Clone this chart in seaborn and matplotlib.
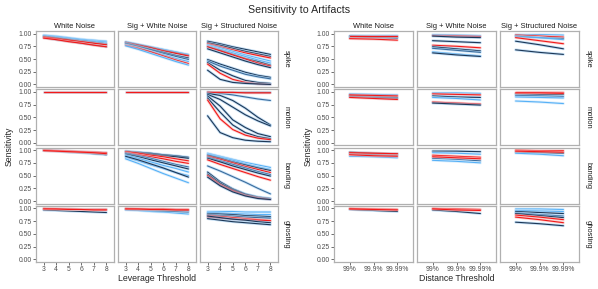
import numpy as np
import pandas as pd
import matplotlib
matplotlib.use("Agg")
import matplotlib.pyplot as plt
import matplotlib.patheffects as pe
import seaborn as sns

# --- labels ---
leverage = [3, 4, 5, 6, 7, 8]
dist_labels = ["99%", "99.9%", "99.99%"]
col_names = ["White Noise", "Sig + White Noise", "Sig + Structured Noise"]
row_names = ["spike", "motion", "banding", "ghosting"]

# colour codes: d = dark navy, m = mid blue, l = light blue, r = red
# --- leverage threshold panels (values at 3..8) ---
lev_spike_white = [
    ("l", [0.97, 0.95, 0.92, 0.89, 0.87, 0.85]),
    ("l", [0.96, 0.94, 0.91, 0.88, 0.85, 0.83]),
    ("m", [0.95, 0.92, 0.89, 0.86, 0.83, 0.80]),
    ("d", [0.94, 0.91, 0.88, 0.84, 0.81, 0.78]),
    ("d", [0.92, 0.88, 0.85, 0.81, 0.78, 0.74]),
    ("r", [0.93, 0.90, 0.87, 0.84, 0.81, 0.78]),
    ("r", [0.91, 0.88, 0.84, 0.81, 0.77, 0.74]),
]
lev_spike_sigwhite = [
    ("l", [0.84, 0.79, 0.74, 0.69, 0.64, 0.59]),
    ("d", [0.83, 0.78, 0.73, 0.67, 0.62, 0.57]),
    ("r", [0.82, 0.77, 0.72, 0.66, 0.61, 0.56]),
    ("d", [0.81, 0.75, 0.69, 0.63, 0.57, 0.52]),
    ("m", [0.80, 0.74, 0.68, 0.61, 0.55, 0.49]),
    ("l", [0.78, 0.72, 0.65, 0.58, 0.51, 0.45]),
    ("r", [0.77, 0.71, 0.64, 0.56, 0.48, 0.41]),
    ("l", [0.76, 0.69, 0.61, 0.53, 0.45, 0.38]),
]
lev_spike_struct = [
    ("d", [0.85, 0.80, 0.74, 0.69, 0.64, 0.59]),
    ("d", [0.82, 0.77, 0.71, 0.65, 0.60, 0.55]),
    ("r", [0.80, 0.74, 0.68, 0.62, 0.57, 0.52]),
    ("l", [0.78, 0.72, 0.65, 0.58, 0.52, 0.46]),
    ("l", [0.76, 0.69, 0.62, 0.55, 0.48, 0.42]),
    ("d", [0.74, 0.67, 0.59, 0.51, 0.45, 0.38]),
    ("r", [0.74, 0.66, 0.58, 0.50, 0.42, 0.36]),
    ("d", [0.70, 0.62, 0.54, 0.46, 0.39, 0.33]),
    ("d", [0.49, 0.40, 0.32, 0.24, 0.18, 0.14]),
    ("m", [0.46, 0.36, 0.28, 0.20, 0.15, 0.11]),
    ("d", [0.43, 0.28, 0.17, 0.08, 0.04, 0.02]),
    ("r", [0.40, 0.22, 0.10, 0.04, 0.01, 0.00]),
    ("d", [0.28, 0.10, 0.04, 0.02, 0.01, 0.00]),
]
lev_motion_white = [
    ("d", [1.00, 1.00, 1.00, 1.00, 1.00, 1.00]),
    ("r", [1.00, 1.00, 1.00, 1.00, 1.00, 1.00]),
]
lev_motion_sigwhite = [
    ("d", [1.00, 1.00, 1.00, 1.00, 1.00, 1.00]),
    ("r", [1.00, 1.00, 1.00, 1.00, 1.00, 1.00]),
]
lev_motion_struct = [
    ("d", [1.00, 1.00, 1.00, 1.00, 1.00, 1.00]),
    ("m", [1.00, 0.97, 0.94, 0.90, 0.86, 0.83]),
    ("r", [0.99, 0.99, 0.99, 0.98, 0.98, 0.98]),
    ("d", [0.97, 0.93, 0.83, 0.68, 0.50, 0.35]),
    ("d", [0.95, 0.85, 0.70, 0.55, 0.43, 0.33]),
    ("d", [0.92, 0.72, 0.45, 0.30, 0.18, 0.12]),
    ("d", [0.88, 0.60, 0.35, 0.20, 0.12, 0.08]),
    ("r", [0.84, 0.47, 0.26, 0.15, 0.09, 0.06]),
    ("d", [0.53, 0.20, 0.10, 0.05, 0.03, 0.02]),
]
lev_banding_white = [
    ("l", [1.00, 0.99, 0.98, 0.97, 0.96, 0.95]),
    ("d", [0.99, 0.98, 0.96, 0.95, 0.93, 0.91]),
    ("m", [1.00, 0.99, 0.97, 0.96, 0.94, 0.93]),
    ("r", [1.00, 0.99, 0.98, 0.97, 0.96, 0.95]),
    ("r", [0.99, 0.98, 0.97, 0.96, 0.95, 0.93]),
]
lev_banding_sigwhite = [
    ("d", [0.98, 0.96, 0.94, 0.91, 0.89, 0.86]),
    ("d", [0.97, 0.95, 0.92, 0.89, 0.87, 0.84]),
    ("r", [0.97, 0.94, 0.90, 0.87, 0.83, 0.79]),
    ("r", [0.95, 0.91, 0.87, 0.83, 0.78, 0.74]),
    ("m", [0.94, 0.89, 0.84, 0.78, 0.72, 0.67]),
    ("d", [0.92, 0.87, 0.81, 0.75, 0.69, 0.63]),
    ("l", [0.90, 0.84, 0.77, 0.70, 0.64, 0.57]),
    ("l", [0.86, 0.79, 0.71, 0.64, 0.56, 0.50]),
    ("d", [0.88, 0.81, 0.73, 0.65, 0.56, 0.47]),
    ("l", [0.83, 0.74, 0.64, 0.54, 0.45, 0.36]),
]
lev_banding_struct = [
    ("l", [0.94, 0.88, 0.82, 0.76, 0.71, 0.66]),
    ("l", [0.92, 0.86, 0.80, 0.73, 0.67, 0.62]),
    ("d", [0.90, 0.84, 0.77, 0.71, 0.65, 0.60]),
    ("r", [0.88, 0.82, 0.75, 0.68, 0.62, 0.56]),
    ("m", [0.86, 0.79, 0.72, 0.65, 0.58, 0.52]),
    ("d", [0.84, 0.77, 0.69, 0.62, 0.55, 0.49]),
    ("r", [0.81, 0.72, 0.64, 0.56, 0.48, 0.41]),
    ("m", [0.69, 0.59, 0.48, 0.37, 0.25, 0.14]),
    ("d", [0.57, 0.38, 0.24, 0.14, 0.08, 0.05]),
    ("d", [0.53, 0.35, 0.22, 0.13, 0.07, 0.04]),
    ("r", [0.50, 0.32, 0.20, 0.11, 0.06, 0.03]),
    ("d", [0.47, 0.30, 0.18, 0.10, 0.05, 0.03]),
]
lev_ghost_white = [
    ("d", [0.97, 0.96, 0.95, 0.94, 0.93, 0.92]),
    ("l", [0.99, 0.99, 0.99, 0.98, 0.98, 0.98]),
    ("r", [1.00, 0.99, 0.99, 0.98, 0.98, 0.98]),
    ("r", [0.99, 0.99, 0.98, 0.98, 0.97, 0.97]),
]
lev_ghost_sigwhite = [
    ("l", [0.97, 0.96, 0.94, 0.93, 0.91, 0.89]),
    ("m", [0.98, 0.97, 0.96, 0.95, 0.94, 0.93]),
    ("d", [0.99, 0.98, 0.98, 0.97, 0.97, 0.96]),
    ("r", [1.00, 0.99, 0.99, 0.99, 0.98, 0.98]),
    ("r", [0.99, 0.99, 0.98, 0.98, 0.97, 0.97]),
]
lev_ghost_struct = [
    ("l", [0.94, 0.94, 0.94, 0.93, 0.93, 0.93]),
    ("l", [0.92, 0.91, 0.90, 0.89, 0.88, 0.88]),
    ("d", [0.90, 0.89, 0.88, 0.86, 0.85, 0.84]),
    ("m", [0.88, 0.86, 0.85, 0.83, 0.82, 0.81]),
    ("r", [0.86, 0.84, 0.82, 0.80, 0.78, 0.76]),
    ("r", [0.83, 0.81, 0.79, 0.78, 0.77, 0.76]),
    ("d", [0.85, 0.82, 0.79, 0.77, 0.74, 0.72]),
    ("d", [0.80, 0.77, 0.74, 0.72, 0.70, 0.68]),
]

# --- distance threshold panels (values at 99%, 99.9%, 99.99%) ---
dist_spike_white = [
    ("l", [0.97, 0.97, 0.97]),
    ("d", [0.95, 0.94, 0.93]),
    ("m", [0.93, 0.92, 0.91]),
    ("r", [0.96, 0.96, 0.96]),
    ("r", [0.90, 0.89, 0.87]),
]
dist_spike_sigwhite = [
    ("l", [0.98, 0.97, 0.96]),
    ("r", [0.96, 0.95, 0.94]),
    ("d", [0.95, 0.93, 0.92]),
    ("d", [0.86, 0.84, 0.82]),
    ("r", [0.77, 0.75, 0.72]),
    ("d", [0.74, 0.70, 0.66]),
    ("m", [0.71, 0.67, 0.63]),
    ("l", [0.64, 0.60, 0.56]),
    ("d", [0.62, 0.58, 0.55]),
]
dist_spike_struct = [
    ("l", [0.98, 0.98, 0.97]),
    ("r", [0.97, 0.95, 0.93]),
    ("d", [0.95, 0.92, 0.90]),
    ("l", [0.94, 0.92, 0.88]),
    ("r", [0.92, 0.86, 0.80]),
    ("d", [0.85, 0.78, 0.70]),
    ("d", [0.68, 0.63, 0.59]),
]
dist_motion_white = [
    ("l", [0.96, 0.95, 0.94]),
    ("d", [0.93, 0.91, 0.89]),
    ("m", [0.91, 0.89, 0.87]),
    ("r", [0.94, 0.93, 0.92]),
    ("r", [0.89, 0.87, 0.85]),
]
dist_motion_sigwhite = [
    ("l", [0.98, 0.98, 0.97]),
    ("r", [0.96, 0.95, 0.94]),
    ("d", [0.92, 0.90, 0.89]),
    ("l", [0.89, 0.87, 0.84]),
    ("r", [0.80, 0.78, 0.76]),
    ("d", [0.78, 0.76, 0.74]),
]
dist_motion_struct = [
    ("d", [0.96, 0.95, 0.95]),
    ("m", [0.93, 0.92, 0.91]),
    ("l", [0.90, 0.89, 0.88]),
    ("l", [0.82, 0.80, 0.77]),
    ("r", [1.00, 1.00, 1.00]),
    ("r", [0.98, 0.98, 0.97]),
]
dist_banding_white = [
    ("d", [0.96, 0.94, 0.93]),
    ("m", [0.93, 0.91, 0.90]),
    ("l", [0.88, 0.87, 0.85]),
    ("r", [0.95, 0.94, 0.93]),
    ("r", [0.91, 0.89, 0.88]),
]
dist_banding_sigwhite = [
    ("d", [0.98, 0.98, 0.97]),
    ("l", [0.95, 0.94, 0.92]),
    ("m", [0.84, 0.82, 0.79]),
    ("l", [0.80, 0.78, 0.75]),
    ("r", [0.90, 0.88, 0.86]),
    ("r", [0.87, 0.85, 0.83]),
]
dist_banding_struct = [
    ("d", [0.96, 0.95, 0.94]),
    ("l", [0.94, 0.92, 0.89]),
    ("r", [1.00, 0.99, 0.99]),
    ("r", [0.98, 0.97, 0.96]),
]
dist_ghost_white = [
    ("d", [0.98, 0.96, 0.94]),
    ("r", [1.00, 0.99, 0.98]),
    ("r", [0.99, 0.98, 0.97]),
]
dist_ghost_sigwhite = [
    ("d", [0.97, 0.94, 0.90]),
    ("r", [1.00, 0.99, 0.98]),
    ("r", [0.99, 0.97, 0.96]),
]
dist_ghost_struct = [
    ("l", [0.99, 0.99, 0.98]),
    ("l", [0.96, 0.95, 0.94]),
    ("d", [0.94, 0.92, 0.90]),
    ("m", [0.91, 0.88, 0.85]),
    ("d", [0.90, 0.86, 0.82]),
    ("r", [0.87, 0.83, 0.78]),
    ("r", [0.83, 0.78, 0.72]),
    ("d", [0.73, 0.70, 0.66]),
]

lev_panels = [
    [lev_spike_white, lev_spike_sigwhite, lev_spike_struct],
    [lev_motion_white, lev_motion_sigwhite, lev_motion_struct],
    [lev_banding_white, lev_banding_sigwhite, lev_banding_struct],
    [lev_ghost_white, lev_ghost_sigwhite, lev_ghost_struct],
]
dist_panels = [
    [dist_spike_white, dist_spike_sigwhite, dist_spike_struct],
    [dist_motion_white, dist_motion_sigwhite, dist_motion_struct],
    [dist_banding_white, dist_banding_sigwhite, dist_banding_struct],
    [dist_ghost_white, dist_ghost_sigwhite, dist_ghost_struct],
]

colors = {"d": "#1d3857", "m": "#3a6c9c", "l": "#56B1F7", "r": "#F21A1A"}
glow = {"d": "#9cc8ee", "m": "#a9d3f5", "l": "#c5e3fb", "r": "#f7b0b0"}

sns.set_theme(style="white")
plt.rcParams["font.family"] = ["Liberation Sans", "DejaVu Sans"]

W, H = 598, 289
fig = plt.figure(figsize=(W / 100, H / 100), dpi=100)


def add_ax(x0, y0, w, h):
    return fig.add_axes([x0 / W, 1 - (y0 + h) / H, w / W, h / H])


def draw_panel(ax, lines, xs):
    recs = []
    for i, (code, vals) in enumerate(lines):
        for x, v in zip(xs, vals):
            recs.append({"x": x, "y": v, "line": i})
    df = pd.DataFrame(recs)
    pal = {i: colors[c] for i, (c, _) in enumerate(lines)}
    sns.lineplot(data=df, x="x", y="y", hue="line", palette=pal,
                 estimator=None, sort=False, legend=False, lw=0.8, ax=ax)
    for ln, (c, _) in zip(ax.get_lines(), lines):
        ln.set_path_effects([pe.Stroke(linewidth=2.0, foreground=glow[c], alpha=0.6),
                             pe.Normal()])


tick_col = "#4D4D4D"
row_tops = [31, 89.3, 147.6, 205.9]
ph = 56
grids = [
    (lev_panels, [36, 118, 200], 78, leverage, (2.4, 8.6), leverage, [str(v) for v in leverage],
     "Leverage Threshold", 286, 9),
    (dist_panels, [334, 417, 500], 79, [1, 2, 3], (0.35, 3.65), [1, 2, 3], dist_labels,
     "Distance Threshold", 588, 308),
]

for panels, lefts, pw, xs, xlim, xt, xtl, xlabel, strip_x, ylab_x in grids:
    for r in range(4):
        for c in range(3):
            ax = add_ax(lefts[c], row_tops[r], pw, ph)
            draw_panel(ax, panels[r][c], xs)
            ax.set_xlim(*xlim)
            ax.set_ylim(-0.05, 1.05)
            ax.set_xlabel("")
            ax.set_ylabel("")
            for s in ax.spines.values():
                s.set_color("#B0B0B0")
                s.set_linewidth(0.9)
            ax.set_yticks([0, 0.25, 0.5, 0.75, 1.0])
            ax.set_xticks(xt)
            ax.tick_params(length=2.2, width=0.6, color="#555555", pad=0.8,
                           labelsize=4.9, labelcolor=tick_col)
            if c == 0:
                ax.set_yticklabels(["0.00", "0.25", "0.50", "0.75", "1.00"])
                ax.tick_params(axis="y", left=True)
            else:
                ax.set_yticklabels([])
                ax.tick_params(axis="y", left=False)
            if r == 3:
                ax.set_xticklabels(xtl)
                ax.tick_params(axis="x", bottom=True, pad=0.5)
            else:
                ax.set_xticklabels([])
                ax.tick_params(axis="x", bottom=False)
            if r == 0:
                ax.set_title(col_names[c], fontsize=5.4, color="#1a1a1a", pad=2)
        fig.text(strip_x / W, 1 - (row_tops[r] + ph / 2) / H, row_names[r], rotation=270,
                 ha="center", va="center", fontsize=5.4, color="#1a1a1a")
    cx = (lefts[0] + lefts[2] + pw) / 2
    fig.text(cx / W, 1 - 278.5 / H, xlabel, ha="center", va="center", fontsize=6.3)
    fig.text(ylab_x / W, 1 - 146.5 / H, "Sensitivity", rotation=90,
             ha="center", va="center", fontsize=6.3)

fig.text(0.5, 1 - 10 / H, "Sensitivity to Artifacts", ha="center", va="center", fontsize=7.7)

fig.savefig("out.png", dpi=100)
